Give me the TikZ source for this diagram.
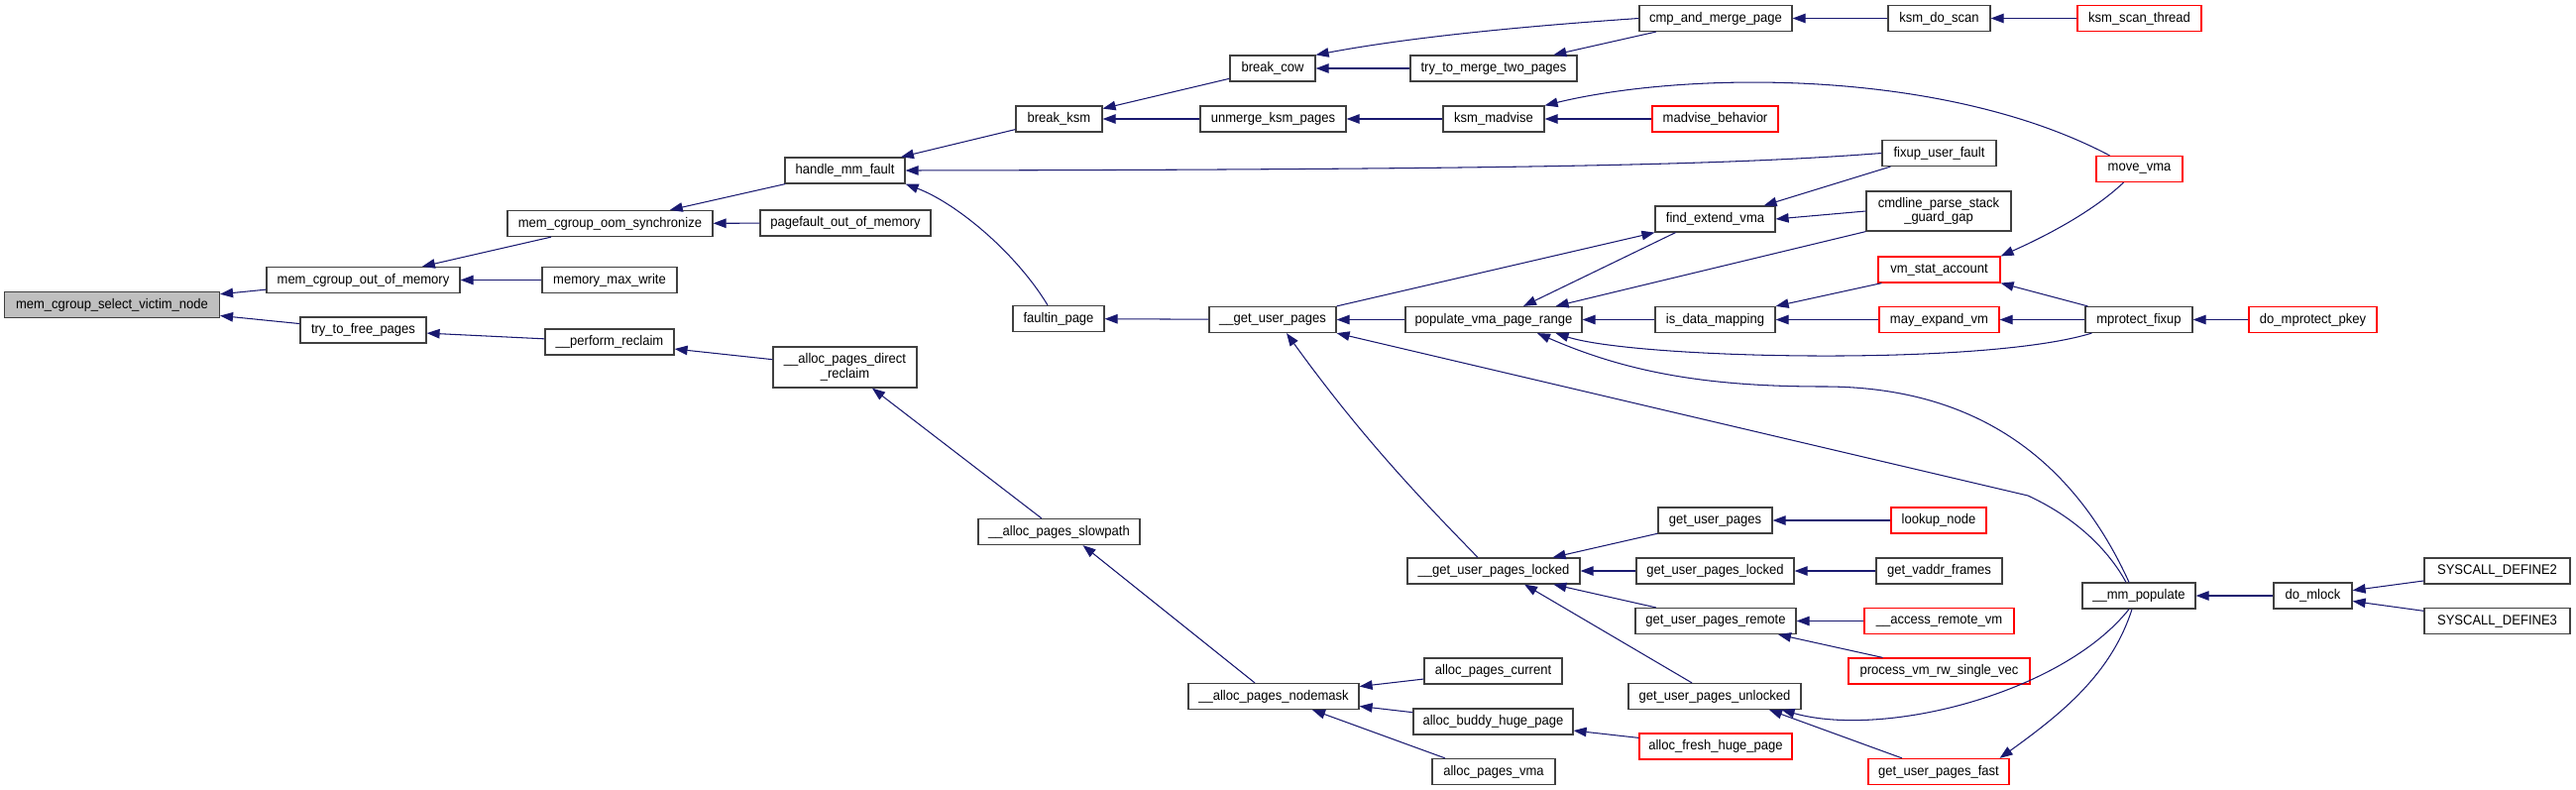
\documentclass[tikz,border=0pt]{standalone}
\usepackage{fontspec}
\setmainfont{Liberation Sans}[FakeStretch=0.93]
\usetikzlibrary{arrows.meta}
\definecolor{edgecol}{HTML}{191970}
\definecolor{nodeborder}{HTML}{404040}
\newcommand\nodefnt{\fontsize{14}{14.5}\selectfont}
\begin{document}
\begin{tikzpicture}[x=1pt,y=-1pt,
  fn/.style={draw=nodeborder, line width=1.2pt, fill=white, minimum height=26pt, inner sep=2pt, font=\nodefnt, text=black},
  fnred/.style={fn, draw=red},
  fntwo/.style={fn, align=center, minimum height=41pt},
  call/.style={draw=edgecol, line width=1.05pt, arrows={Triangle[length=13pt,width=9.5pt,fill=edgecol]-}}]
\useasboundingbox (0,0) rectangle (2599,797);
% column 0
\node[fn, fill=gray!50, minimum width=217] (root) at (113,307.5) {mem\_cgroup\_select\_victim\_node};
% column 1
\node[fn, minimum width=195] (mcoom) at (366.5,282.5) {mem\_cgroup\_out\_of\_memory};
\node[fn, minimum width=127] (ttfp) at (366.5,333) {try\_to\_free\_pages};
% column 2
\node[fn, minimum width=207] (mcos) at (615.5,225.5) {mem\_cgroup\_oom\_synchronize};
\node[fn, minimum width=136] (mmw) at (615,282.5) {memory\_max\_write};
\node[fn, minimum width=130] (pr) at (615,345) {\_\_perform\_reclaim};
% column 3
\node[fn, minimum width=121] (hmf) at (852.5,172) {handle\_mm\_fault};
\node[fn, minimum width=172] (pfoom) at (853,225) {pagefault\_out\_of\_memory};
\node[fntwo, minimum width=145] (apdr) at (852.5,370.5) {\_\_alloc\_pages\_direct\\\_reclaim};
% column 4
\node[fn, minimum width=87] (bksm) at (1068.5,120) {break\_ksm};
\node[fn, minimum width=92] (fp) at (1068,321.5) {faultin\_page};
\node[fn, minimum width=163] (aps) at (1068.5,536.5) {\_\_alloc\_pages\_slowpath};
% column 5
\node[fn, minimum width=86] (bcow) at (1284,69) {break\_cow};
\node[fn, minimum width=147] (uksm) at (1284.5,120) {unmerge\_ksm\_pages};
\node[fn, minimum width=128] (gup_) at (1284,322.5) {\_\_get\_user\_pages};
\node[fn, minimum width=172] (apn) at (1285,702.5) {\_\_alloc\_pages\_nodemask};
% column 6
\node[fn, minimum width=168] (ttmtp) at (1507,69) {try\_to\_merge\_two\_pages};
\node[fn, minimum width=102] (kmadv) at (1507,120) {ksm\_madvise};
\node[fn, minimum width=178] (pvpr) at (1507,322.5) {populate\_vma\_page\_range};
\node[fn, minimum width=174] (gupl_) at (1507,576) {\_\_get\_user\_pages\_locked};
\node[fn, minimum width=139] (apc) at (1506.5,677) {alloc\_pages\_current};
\node[fn, minimum width=161] (abhp) at (1506.5,728) {alloc\_buddy\_huge\_page};
\node[fn, minimum width=124] (apv) at (1507,778.5) {alloc\_pages\_vma};
% column 7
\node[fn, minimum width=154] (cmp) at (1731,18.5) {cmp\_and\_merge\_page};
\node[fnred, minimum width=127] (madv) at (1730.5,120) {madvise\_behavior};
\node[fn, minimum width=121] (fev) at (1730.5,221) {find\_extend\_vma};
\node[fn, minimum width=121] (idm) at (1730.5,322.5) {is\_data\_mapping};
\node[fn, minimum width=115] (gup) at (1730.5,525) {get\_user\_pages};
\node[fn, minimum width=159] (gupl) at (1730.5,576) {get\_user\_pages\_locked};
\node[fn, minimum width=162] (gupr) at (1731,626.5) {get\_user\_pages\_remote};
\node[fn, minimum width=174] (gupu) at (1730,702.5) {get\_user\_pages\_unlocked};
\node[fnred, minimum width=154] (afhp) at (1731,753) {alloc\_fresh\_huge\_page};
% column 8
\node[fn, minimum width=103] (kds) at (1956.5,18.5) {ksm\_do\_scan};
\node[fn, minimum width=115] (fuf) at (1956.5,154.5) {fixup\_user\_fault};
\node[fntwo, minimum width=146, minimum height=40] (cpsg) at (1956,213) {cmdline\_parse\_stack\\\_guard\_gap};
\node[fnred, minimum width=123] (vsa) at (1956.5,272) {vm\_stat\_account};
\node[fnred, minimum width=121] (mev) at (1956.5,322.5) {may\_expand\_vm};
\node[fnred, minimum width=96] (ln) at (1956,525) {lookup\_node};
\node[fn, minimum width=127] (gvf) at (1956.5,576) {get\_vaddr\_frames};
\node[fnred, minimum width=151] (arv) at (1956.5,626.5) {\_\_access\_remote\_vm};
\node[fnred, minimum width=183] (pvrs) at (1956.5,677) {process\_vm\_rw\_single\_vec};
\node[fnred, minimum width=142] (gupf) at (1956,778.5) {get\_user\_pages\_fast};
% column 9
\node[fnred, minimum width=125] (kst) at (2158.5,18.5) {ksm\_scan\_thread};
\node[fnred, minimum width=87] (mvma) at (2158.5,170.5) {move\_vma};
\node[fn, minimum width=108] (mpf) at (2158,322.5) {mprotect\_fixup};
\node[fn, minimum width=114] (mmp) at (2158,601) {\_\_mm\_populate};
% column 10
\node[fnred, minimum width=129] (dmpk) at (2333.5,322.5) {do\_mprotect\_pkey};
\node[fn, minimum width=79] (dml) at (2333.5,601) {do\_mlock};
% column 11
\node[fn, minimum width=147] (sd2) at (2519.5,576) {SYSCALL\_DEFINE2};
\node[fn, minimum width=147] (sd3) at (2519.5,626.5) {SYSCALL\_DEFINE3};

% edges (arrow at callee, path starts there)
\draw[call] (root) -- (mcoom);
\draw[call] (root) -- (ttfp);
\draw[call] (mcoom) -- (mcos);
\draw[call] (mcoom) -- (mmw);
\draw[call] (ttfp) -- (pr);
\draw[call] (mcos) -- (hmf);
\draw[call] (mcos) -- (pfoom);
\draw[call] (pr) -- (apdr);
\draw[call] (hmf) -- (bksm);
\draw[call] (hmf.east) .. controls (1550,171) and (1750,166) .. (fuf.west);
\draw[call] (hmf.south east) .. controls (965,205) and (1025,255) .. ([xshift=-11pt]fp.north);
\draw[call] (apdr) -- (aps);
\draw[call] (bksm) -- (bcow);
\draw[call] (bksm) -- (uksm);
\draw[call] (bcow.north east) .. controls (1420,38) and (1530,27) .. (cmp.west);
\draw[call] (bcow) -- (ttmtp);
\draw[call] (ttmtp) -- (cmp);
\draw[call] (cmp) -- (kds);
\draw[call] (kds) -- (kst);
\draw[call] (uksm) -- (kmadv);
\draw[call] (kmadv) -- (madv);
\draw[call] (kmadv.north east) .. controls (1700,72) and (1960,68) .. ([xshift=-30pt]mvma.north);
\draw[call] (fp) -- (gup_);
\draw[call] (gup_) -- (pvpr);
\draw[call] (fev.south west) -- (gup_.north east);
\draw[call] ([xshift=30pt]pvpr.north) -- ([xshift=-40pt]fev.south);
\draw[call] ([xshift=-27pt]pvpr.north east) -- (cpsg.south west);
\draw[call] ([xshift=-12pt]fev.north east) -- ([xshift=9pt]fuf.south west);
\draw[call] (fev.east) -- (cpsg.west);
\draw[call] (pvpr) -- (idm);
\draw[call] (idm.north east) -- ([xshift=4pt]vsa.south west);
\draw[call] (idm) -- (mev);
\draw[call] (vsa.north east) .. controls (2060,240) and (2110,215) .. ([xshift=-16pt]mvma.south);
\draw[call] (vsa.south east) -- ([xshift=3pt]mpf.north west);
\draw[call] (mev) -- (mpf);
\draw[call] (mpf) -- (dmpk);
\draw[call] ([xshift=-27pt]pvpr.south east) .. controls (1650,362) and (2000,370) .. ([xshift=7pt]mpf.south west);
\draw[call] ([xshift=44pt]pvpr.south) .. controls (1640,375) and (1720,390) .. (1840,390) .. controls (1990,390) and (2090,460) .. ([xshift=-10pt]mmp.north);
\draw[call] (gup_.south east) -- (2046,500) .. controls (2100,525) and (2130,560) .. ([xshift=-13pt]mmp.north);
\draw[call] ([xshift=14pt]gup_.south) .. controls (1380,450) and (1450,520) .. ([xshift=-16pt]gupl_.north);
\draw[call] ([xshift=24pt]aps.south) -- ([xshift=-19pt]apn.north);
\draw[call] (apn) -- (apc);
\draw[call] (apn) -- (abhp);
\draw[call] ([xshift=39pt]apn.south) -- ([xshift=-49pt]apv.north);
\draw[call] (abhp) -- (afhp);
\draw[call] (gupl_) -- (gup);
\draw[call] (gupl_) -- (gupl);
\draw[call] (gupl_) -- (gupr);
\draw[call] ([xshift=31pt]gupl_.south) -- ([xshift=-23pt]gupu.north);
\draw[call] (gup) -- (ln);
\draw[call] (gupl) -- (gvf);
\draw[call] (gupr) -- (arv);
\draw[call] ([xshift=63pt]gupr.south) -- ([xshift=-57pt]pvrs.north);
\draw[call] ([xshift=-20pt]gupu.south east) .. controls (1900,745) and (2080,700) .. ([xshift=-10pt]mmp.south);
\draw[call] ([xshift=55pt]gupu.south) -- ([xshift=-37pt]gupf.north);
\draw[call] ([xshift=-10pt]gupf.north east) .. controls (2080,720) and (2130,680) .. ([xshift=-7pt]mmp.south);
\draw[call] (mmp) -- (dml);
\draw[call] (dml) -- (sd2);
\draw[call] (dml) -- (sd3);
\end{tikzpicture}
\end{document}
